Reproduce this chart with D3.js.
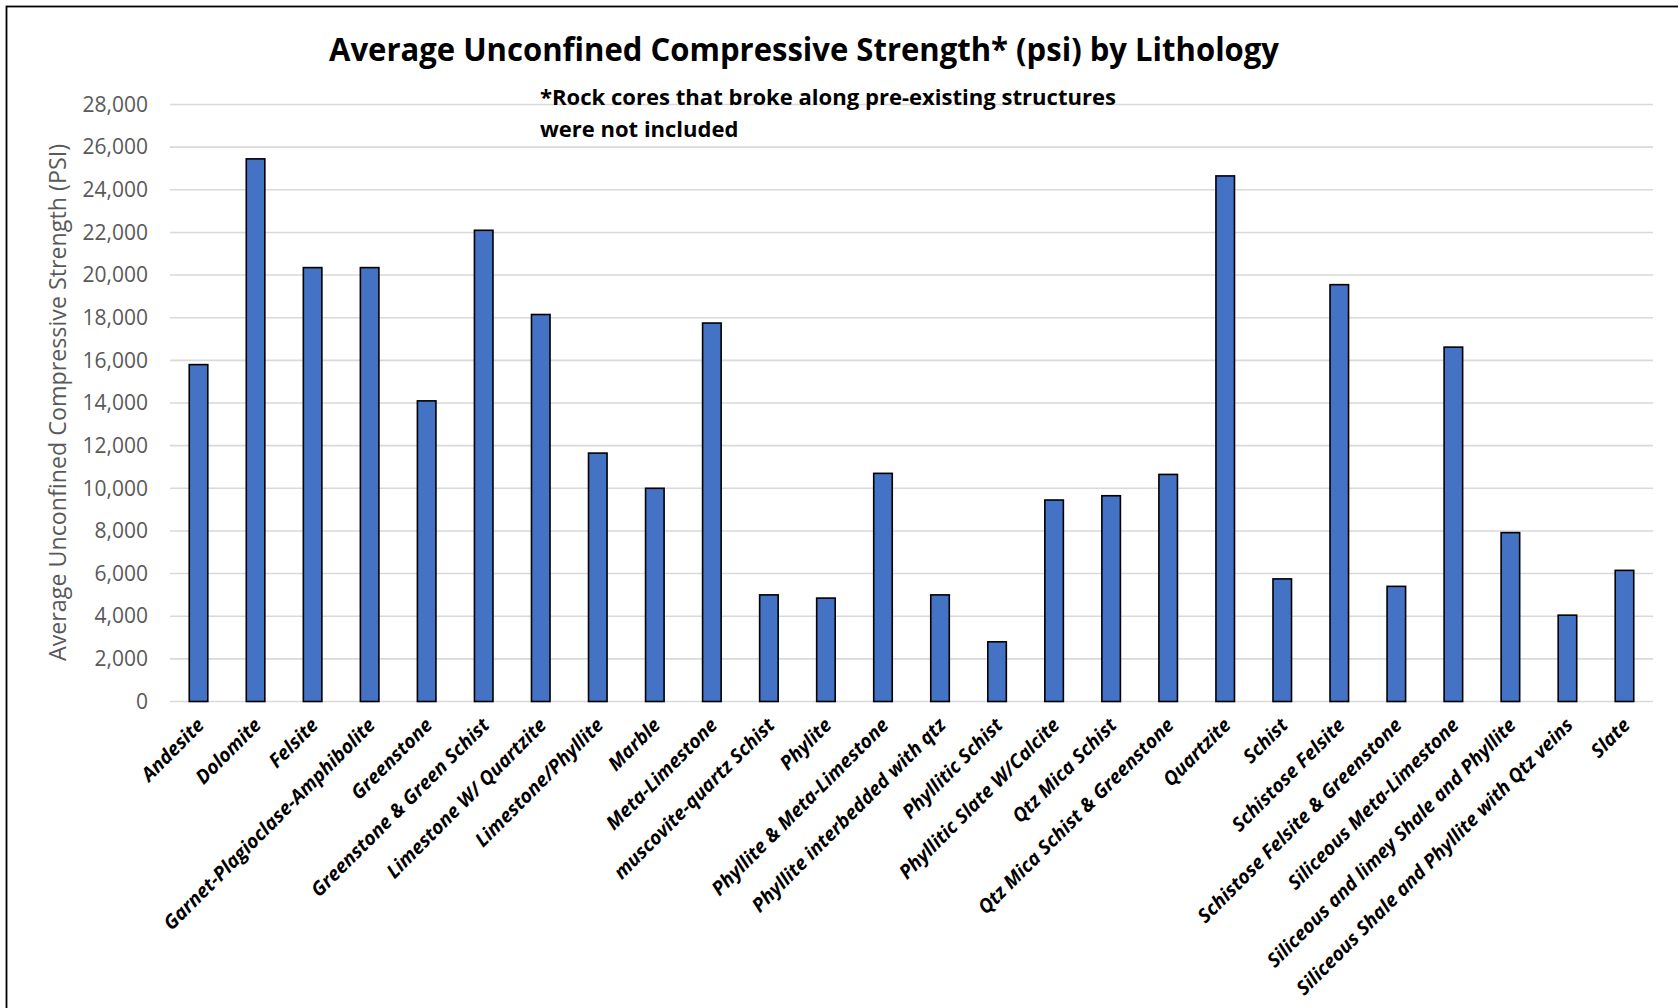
<!DOCTYPE html>
<html>
<head>
<meta charset="utf-8">
<script src="https://cdn.jsdelivr.net/npm/d3@7"></script>
<style>
  html, body { margin: 0; padding: 0; background: #fff; }
  svg { display: block; }
</style>
</head>
<body>
<svg id="chart" width="1678" height="1008"></svg>
<script>
// Lithology categories in axis order
const categories = [
  "Andesite", "Dolomite", "Felsite", "Garnet-Plagioclase-Amphibolite", "Greenstone",
  "Greenstone & Green Schist", "Limestone W/ Quartzite", "Limestone/Phyllite", "Marble",
  "Meta-Limestone", "muscovite-quartz Schist", "Phylite", "Phyllite & Meta-Limestone",
  "Phyllite interbedded with qtz", "Phyllitic Schist", "Phyllitic Slate W/Calcite",
  "Qtz Mica Schist", "Qtz Mica Schist & Greenstone", "Quartzite", "Schist",
  "Schistose Felsite", "Schistose Felsite & Greenstone", "Siliceous Meta-Limestone",
  "Siliceous and limey Shale and Phyllite", "Siliceous Shale and Phyllite with Qtz veins", "Slate"
];

// Average unconfined compressive strength (psi) per lithology
const strengthPsi = [
  15800, 25450, 20350, 20350, 14100,
  22100, 18150, 11650, 10000,
  17750, 5000, 4850, 10700,
  5000, 2800, 9450,
  9650, 10650, 24650, 5750,
  19550, 5400, 16620,
  7920, 4050, 6150
];

// Value-axis ticks
const yTicks = [0, 2000, 4000, 6000, 8000, 10000, 12000, 14000, 16000, 18000, 20000, 22000, 24000, 26000, 28000];

const titleText = "Average Unconfined Compressive Strength* (psi) by Lithology";
const noteLines = ["*Rock cores that broke along pre-existing structures", "were not included"];
const yAxisTitle = "Average Unconfined Compressive Strength (PSI)";

const svg = d3.select("#chart");
const FONT = "'Open Sans', 'Noto Sans', sans-serif";

const plot = { left: 170, right: 1653, top: 104.5, bottom: 701.5 };

const x = d3.scaleBand()
  .domain(categories)
  .range([plot.left, plot.right])
  .paddingInner(0.675)
  .paddingOuter(0.3375);

const y = d3.scaleLinear()
  .domain([0, 28000])
  .range([plot.bottom, plot.top]);

// outer frame (continues past the right and bottom edges)
svg.append("rect")
  .attr("x", 6.5).attr("y", 6.5)
  .attr("width", 1800).attr("height", 1200)
  .attr("fill", "none")
  .attr("stroke", "#000")
  .attr("stroke-width", 1.8);

// horizontal gridlines
svg.append("g")
  .selectAll("line")
  .data(yTicks)
  .join("line")
  .attr("x1", plot.left).attr("x2", plot.right)
  .attr("y1", d => y(d)).attr("y2", d => y(d))
  .attr("stroke", "#d9d9d9")
  .attr("stroke-width", 1.6);

// y axis tick labels
const yAxis = d3.axisLeft(y)
  .tickValues(yTicks)
  .tickSize(0)
  .tickPadding(22)
  .tickFormat(d3.format(","));

const yG = svg.append("g")
  .attr("transform", `translate(${plot.left},0)`)
  .call(yAxis);
yG.select(".domain").remove();
yG.selectAll("text")
  .attr("fill", "#595959")
  .attr("font-family", FONT)
  .attr("font-size", 21);

// bars
svg.append("g")
  .selectAll("rect")
  .data(categories.map((c, i) => ({ c, v: strengthPsi[i] })))
  .join("rect")
  .attr("x", d => x(d.c))
  .attr("width", x.bandwidth())
  .attr("y", d => y(d.v))
  .attr("height", d => y(0) - y(d.v))
  .attr("fill", "#4472c4")
  .attr("stroke", "#000")
  .attr("stroke-width", 1.6);

// category labels, rotated
const xG = svg.append("g");
const xLabels = xG.selectAll("text")
  .data(categories)
  .join("text")
  .attr("transform", d => `translate(${x(d) + x.bandwidth() / 2 - 3},${plot.bottom + 15}) rotate(-45)`)
  .attr("text-anchor", "end")
  .attr("dy", "0.72em")
  .attr("font-family", FONT)
  .attr("font-weight", 700)
  .attr("font-style", "italic")
  .attr("font-size", 18)
  .attr("fill", "#000")
  .text(d => d);

// size category labels so the longest label spans its measured length
(function fitLabels() {
  const node = xLabels.filter(d => d === "Garnet-Plagioclase-Amphibolite").node();
  const len = node.getComputedTextLength();
  const fs = 18 * 290 / len;
  xLabels.attr("font-size", fs.toFixed(2));
})();

// y axis title
const yTitle = svg.append("text")
  .attr("transform", `translate(57,402.5) rotate(-90)`)
  .attr("text-anchor", "middle")
  .attr("dominant-baseline", "central")
  .attr("font-family", FONT)
  .attr("font-size", 21)
  .attr("fill", "#595959")
  .text(yAxisTitle);
(function fitYTitle() {
  const len = yTitle.node().getComputedTextLength();
  yTitle.attr("font-size", (21 * 517 / len).toFixed(2));
})();

// chart title
svg.append("text")
  .attr("x", 804).attr("y", 61)
  .attr("text-anchor", "middle")
  .attr("font-family", FONT)
  .attr("font-weight", 700)
  .attr("font-size", 32)
  .attr("fill", "#000")
  .attr("textLength", 950)
  .attr("lengthAdjust", "spacingAndGlyphs")
  .text(titleText);

// footnote on excluded cores
svg.append("g")
  .selectAll("text")
  .data(noteLines)
  .join("text")
  .attr("x", 540)
  .attr("y", (d, i) => 105 + i * 32)
  .attr("font-family", FONT)
  .attr("font-weight", 700)
  .attr("font-size", 22)
  .attr("fill", "#000")
  .attr("textLength", (d, i) => i === 0 ? 576 : null)
  .attr("lengthAdjust", "spacingAndGlyphs")
  .text(d => d);
</script>
</body>
</html>
